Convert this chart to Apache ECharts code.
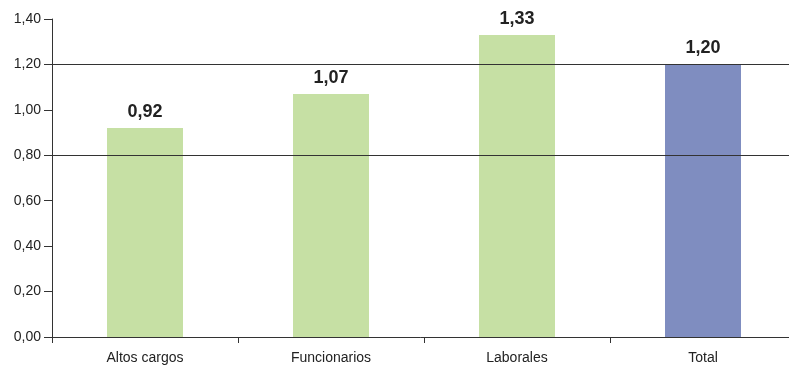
<!DOCTYPE html>
<html><head><meta charset="utf-8">
<script src="https://cdn.jsdelivr.net/npm/echarts@6/dist/echarts.min.js"></script>
<style>html,body{margin:0;padding:0;background:#fff}#c{width:789px;height:366px}</style>
</head><body><div id="c"></div>
<script>
var categories = ["Altos cargos", "Funcionarios", "Laborales", "Total"];
var values = [0.92, 1.07, 1.33, 1.20];
var refLines = [0.80, 1.20];
var fmt = function (v) { return Number(v).toFixed(2).replace('.', ','); };
var font = "'Liberation Sans Narrow', 'Arial Narrow', 'Liberation Sans', Arial, sans-serif";
var chart = echarts.init(document.getElementById('c'), null, {renderer: 'canvas'});
chart.setOption({
  animation: false,
  grid: {left: 52, width: 744, top: 19, bottom: 29, containLabel: false, outerBoundsMode: 'none'},
  xAxis: {
    type: 'category', data: categories,
    axisLine: {lineStyle: {color: '#333', width: 1}},
    axisTick: {show: true, length: 6, lineStyle: {color: '#333'}, alignWithLabel: false},
    axisLabel: {color: '#222', fontSize: 14, fontFamily: font, margin: 14}
  },
  yAxis: {
    type: 'value', min: 0, max: 1.4, interval: 0.2,
    axisLine: {show: true, lineStyle: {color: '#333', width: 1}},
    axisTick: {show: true, length: 8, lineStyle: {color: '#333'}},
    splitLine: {show: false},
    axisLabel: {color: '#222', fontSize: 14, fontFamily: font, margin: 11, formatter: fmt}
  },
  series: [{
    type: 'bar', barWidth: 76,
    data: values.map(function (v, i) {
      return {value: v, itemStyle: {color: i === values.length - 1 ? '#7f8dc0' : '#c6e0a4'}};
    }),
    label: {show: true, position: 'top', distance: 7, color: '#222', fontSize: 18, fontWeight: 'bold',
      fontFamily: "'Liberation Sans', Arial, sans-serif", formatter: function (p) { return fmt(p.value); }},
    markLine: {
      silent: true, symbol: 'none', label: {show: false},
      lineStyle: {color: '#333', width: 1, type: 'solid'},
      data: refLines.map(function (v) { return {yAxis: v}; })
    }
  }]
});
</script></body></html>
